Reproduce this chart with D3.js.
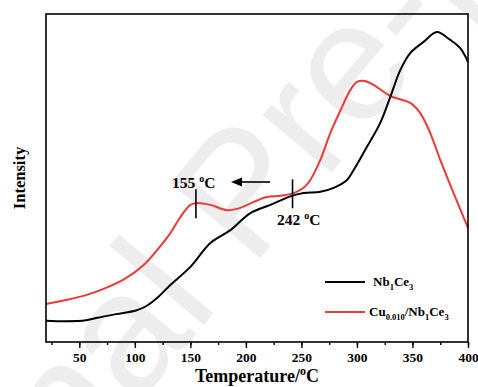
<!DOCTYPE html>
<html><head><meta charset="utf-8">
<script src="https://cdn.jsdelivr.net/npm/d3@7"></script>
<style>body{margin:0;background:#fff}svg{display:block}text{font-family:"Liberation Serif","Times New Roman",serif;font-weight:bold}</style>
</head><body>
<svg id="c" width="478" height="387"></svg>
<script>
const temps1 = [20,38,56,65,83,101,110,120,132,150,168,186,204,222,240,252,267,279,291,297,309,321,330,339,348,360,372,384,393,400];
const nbce = [6.5,6.3,6.6,7.3,8.5,9.6,10.9,13.4,17.4,22.9,30.2,34.1,39.3,41.8,44.4,45.4,45.8,47.0,49.4,52.4,59.5,66.8,74.7,82.9,88.1,91.5,94.5,92.1,89.6,85.4];
const temps2 = [20,38,56,74,92,108,120,132,141,150,156,168,183,195,207,219,231,243,252,258,267,276,285,294,300,307,315,330,348,357,366,375,387,400];
const cunbce = [11.6,12.8,14.3,16.5,19.5,23.5,28.0,33.2,38.1,41.8,42.4,41.8,40.2,40.9,42.7,44.2,44.6,45.4,47.0,49.4,55.5,63.7,70.5,76.8,79.3,79.6,78.4,75.0,72.9,69.8,63.7,55.5,45.4,34.8];
const xTicks = [50,100,150,200,250,300,350,400];
const markers = [155,242];

const svg = d3.select("#c");
const L=46,R=468,T=14,B=342;
const x = d3.scaleLinear().domain([20,400]).range([L,R]);
const y = d3.scaleLinear().domain([0,100]).range([B,T]);

// watermark
svg.append("text").attr("x",0).attr("y",0)
  .attr("transform","translate(250,200) rotate(-50)")
  .attr("text-anchor","middle").attr("dominant-baseline","middle")
  .style("font-family","Liberation Sans, Arial, sans-serif").style("font-weight","normal")
  .attr("font-size",170).attr("fill","#ededed").text("Journal Pre-proof");

const line = d3.line().x(d=>x(d[0])).y(d=>y(d[1])).curve(d3.curveCatmullRom.alpha(0.5));
svg.append("path").datum(temps2.map((t,i)=>[t,cunbce[i]])).attr("d",line)
  .attr("fill","none").attr("stroke","#ef3838").attr("stroke-width",2);
svg.append("path").datum(temps1.map((t,i)=>[t,nbce[i]])).attr("d",line)
  .attr("fill","none").attr("stroke","#000").attr("stroke-width",2);

// frame
svg.append("rect").attr("x",L).attr("y",T).attr("width",R-L).attr("height",B-T)
  .attr("fill","none").attr("stroke","#000").attr("stroke-width",1.6);

// bottom axis
const ax = svg.append("g").attr("transform",`translate(0,${B})`);
ax.call(d3.axisBottom(x).tickValues(d3.range(25,401,25)).tickSize(3).tickFormat(""));
ax.call(g=>g.select(".domain").remove());
const ax2 = svg.append("g").attr("transform",`translate(0,${B})`);
ax2.call(d3.axisBottom(x).tickValues(xTicks).tickSize(6).tickPadding(4).tickFormat(d3.format("d")));
ax2.select(".domain").remove();
svg.selectAll(".tick line").attr("stroke-width",1.4);
ax2.selectAll("text").attr("font-size",13.5).style("font-family","Liberation Serif, serif").style("font-weight","bold").attr("fill","#000");

// axis titles
const xt = svg.append("text").attr("x",257).attr("y",382).attr("text-anchor","middle").attr("font-size",18);
xt.append("tspan").text("Temperature/");
xt.append("tspan").attr("font-size",12).attr("dy",-7).text("o");
xt.append("tspan").attr("dy",7).text("C");
svg.append("text").attr("transform","translate(25,178) rotate(-90)").attr("text-anchor","middle").attr("font-size",16.5).text("Intensity");

// markers
const redPts = temps2.map((t,i)=>[t,cunbce[i]]);
const interp = (arr,t)=>{for(let i=1;i<arr.length;i++){if(arr[i][0]>=t){const a=arr[i-1],b=arr[i];return a[1]+(b[1]-a[1])*(t-a[0])/(b[0]-a[0]);}}return arr[arr.length-1][1];};
markers.forEach(m=>{
  const yy = y(interp(redPts,m));
  svg.append("line").attr("x1",x(m)).attr("x2",x(m)).attr("y1",yy-14).attr("y2",yy+15).attr("stroke","#000").attr("stroke-width",1.6);
});
function deg(xp,yp,num,anchor){
  const t=svg.append("text").attr("x",xp).attr("y",yp).attr("font-size",15.5).attr("text-anchor",anchor);
  t.append("tspan").text(num+" ");
  t.append("tspan").attr("font-size",10).attr("dy",-6).text("o");
  t.append("tspan").attr("dy",6).text("C");
}
deg(172,188,"155","start");
deg(277,225,"242","start");
// arrow
svg.append("line").attr("x1",270).attr("y1",182).attr("x2",240).attr("y2",182).attr("stroke","#000").attr("stroke-width",1.6);
svg.append("path").attr("d","M231,182 L242,177.5 L242,186.5 Z").attr("fill","#000");

// legend
const leg = [{c:"#000",y:282,parts:[["Nb",0],["1",1],["Ce",0],["3",1]],tx:373},
             {c:"#ef3838",y:312,parts:[["Cu",0],["0.010",1],["/Nb",0],["1",1],["Ce",0],["3",1]],tx:369}];
leg.forEach(l=>{
  svg.append("line").attr("x1",325).attr("x2",365).attr("y1",l.y).attr("y2",l.y).attr("stroke",l.c).attr("stroke-width",2.2);
  const t=svg.append("text").attr("x",l.tx).attr("y",l.y+4).attr("font-size",13);
  let sub=false;
  l.parts.forEach(p=>{
    const s=t.append("tspan").text(p[0]);
    if(p[1]&&!sub){s.attr("font-size",8.5).attr("dy",4);sub=true;}
    else if(!p[1]&&sub){s.attr("dy",-4);sub=false;}
    else if(p[1]) s.attr("font-size",8.5);
  });
});
</script>
</body></html>
